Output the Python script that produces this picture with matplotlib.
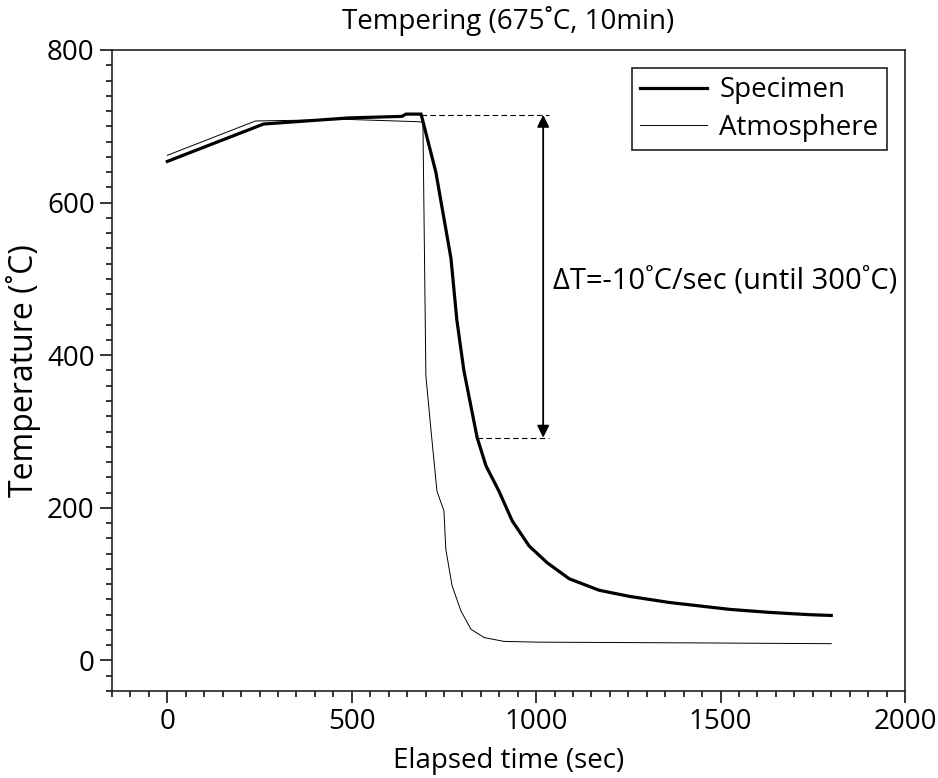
import matplotlib
matplotlib.use("Agg")
import matplotlib.pyplot as plt
from matplotlib.ticker import MultipleLocator

plt.rcParams['font.family'] = ['Open Sans', 'DejaVu Sans']

# Data
spec_t = [0, 261, 492, 636, 647, 688, 728, 769, 785, 804, 840, 864, 899, 935,
          981, 1030, 1090, 1171, 1253, 1361, 1524, 1633, 1742, 1800]
spec_T = [654, 703, 711, 713, 716, 716, 640, 527, 446, 380, 292, 255, 222, 183,
          150, 128, 107, 92, 84, 76, 67, 63, 60, 59]

atm_t = [0, 239, 492, 682, 693, 701, 715, 731, 750, 755, 772, 796, 823, 859,
         913, 1008, 1443, 1800]
atm_T = [662, 707, 709, 706, 705, 373, 301, 222, 196, 146, 98, 65, 41, 30,
         25, 24, 23, 22]

top_level = 715
bottom_level = 292
arrow_t = 1019
dash_end = 1035
dash_start_bottom = 840
dash_start_top = 688

title = "Tempering (675˚C, 10min)"
xlabel = "Elapsed time (sec)"
ylabel = "Temperature (˚C)"
note = "ΔT=-10˚C/sec (until 300˚C)"

FS = 20

fig = plt.figure(figsize=(9.38, 7.78), dpi=100)
ax = fig.add_axes([112/938, 1-691/778, (905-112)/938, (691-50)/778])

ax.plot(spec_t, spec_T, color='black', lw=2.3, label='Specimen', solid_joinstyle='miter')
ax.plot(atm_t, atm_T, color='black', lw=0.7, label='Atmosphere')

ax.plot([dash_start_top, dash_end], [top_level, top_level], color='black', lw=0.8, ls=(0, (5, 3)))
ax.plot([dash_start_bottom, dash_end], [bottom_level, bottom_level], color='black', lw=0.8, ls=(0, (5, 3)))
ax.annotate('', xy=(arrow_t, top_level), xytext=(arrow_t, bottom_level),
            arrowprops=dict(arrowstyle='<|-|>', color='black', lw=1.3,
                            mutation_scale=18, shrinkA=0, shrinkB=0))
ax.text(1045, 496, note, fontsize=21, va='center', ha='left')

ax.set_xlim(-150, 2000)
ax.set_ylim(-40, 800)
ax.xaxis.set_major_locator(MultipleLocator(500))
ax.xaxis.set_minor_locator(MultipleLocator(50))
ax.yaxis.set_major_locator(MultipleLocator(200))
ax.yaxis.set_minor_locator(MultipleLocator(20))
ax.tick_params(which='major', length=8.5, width=1.1, labelsize=FS, pad=4, direction='out')
ax.tick_params(which='minor', length=4.5, width=1.1, direction='out')
for s in ax.spines.values():
    s.set_linewidth(1.2)
    s.set_color('#222222')

ax.set_title(title, fontsize=FS, pad=15)
ax.set_xlabel(xlabel, fontsize=FS, labelpad=8)
ax.set_ylabel(ylabel, fontsize=23, labelpad=4)

leg = ax.legend(loc='upper right', fontsize=FS, frameon=True, fancybox=False,
                edgecolor='#222222', handlelength=2.4, borderaxespad=0.65,
                labelspacing=0.35, borderpad=0.3, handletextpad=0.45)
leg.get_frame().set_linewidth(1.2)
leg.get_frame().set_alpha(1)

fig.savefig('out.png', dpi=100)
